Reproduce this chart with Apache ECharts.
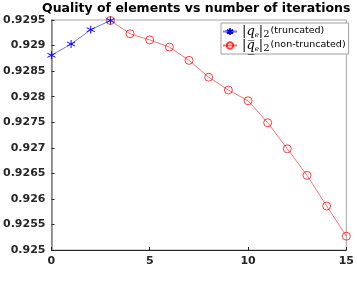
<!DOCTYPE html>
<html><head><meta charset="utf-8">
<script src="https://cdn.jsdelivr.net/npm/echarts@6/dist/echarts.min.js"></script>
<style>html,body{margin:0;padding:0;background:#fff}#c{width:357px;height:283px}</style>
</head><body><div id="c"></div>
<script>
const iterTrunc = [0, 1, 2, 3];
const qualTrunc = [0.92881, 0.92903, 0.92931, 0.92949];
const iterNon = [3, 4, 5, 6, 7, 8, 9, 10, 11, 12, 13, 14, 15];
const qualNon = [0.92949, 0.92923, 0.92911, 0.92897, 0.92871, 0.92838, 0.92813, 0.92792, 0.92749, 0.92698, 0.92646, 0.92586, 0.92527];
const xTicks = [0, 5, 10, 15];
const yTicks = [0.925, 0.9255, 0.926, 0.9265, 0.927, 0.9275, 0.928, 0.9285, 0.929, 0.9295];
const titleText = 'Quality of elements vs number of iterations';
const seriesNames = ['truncated', 'non-truncated'];

const chart = echarts.init(document.getElementById('c'));
const star = 'path://M0,-5L0,5M-4.33,-2.5L4.33,2.5M-4.33,2.5L4.33,-2.5';
const rich = {
  b: {fontSize: 13, fontFamily: 'DejaVu Serif', color: '#000'},
  q: {fontSize: 13, fontStyle: 'italic', fontFamily: 'DejaVu Serif', color: '#000'},
  e: {fontSize: 7, fontStyle: 'italic', fontFamily: 'DejaVu Serif', color: '#000', padding: [7, 0, 0, 0]},
  n: {fontSize: 10, fontFamily: 'DejaVu Serif', color: '#000', padding: [5, 1, 0, 0]},
  t: {fontSize: 9.5, fontFamily: 'DejaVu Sans', color: '#000', padding: [0, 0, 1, 0]}
};
chart.setOption({
  animation: false,
  title: {text: titleText, left: 42, top: 2, padding: 0,
    textStyle: {fontFamily: 'DejaVu Sans', fontWeight: 'bold', fontSize: 12.5, color: '#000'}},
  grid: {left: 51, right: 8, top: 20, bottom: 33, show: true, borderColor: '#a6a6a6', borderWidth: 1},
  legend: {
    orient: 'vertical', left: 221, top: 23, padding: [2, 3, 1, 1], itemGap: 0,
    itemWidth: 14, itemHeight: 8,
    backgroundColor: '#fff', borderColor: '#a0a0a0', borderWidth: 1,
    data: seriesNames,
    formatter: function (n) { return '{b||}{q|q\u0332}{e|e}{b||}{n|2}{t|(' + n + ')}'; },
    textStyle: {rich: rich}
  },
  xAxis: {
    type: 'value', min: xTicks[0], max: xTicks[xTicks.length - 1], interval: 5,
    axisLine: {show: true, onZero: false, lineStyle: {color: '#262626', width: 1}},
    axisTick: {inside: true, length: 3, lineStyle: {color: '#262626'}},
    splitLine: {show: false},
    axisLabel: {margin: 6, fontFamily: 'DejaVu Sans', fontWeight: 'bold', fontSize: 11, color: '#262626'}
  },
  yAxis: {
    type: 'value', min: yTicks[0], max: yTicks[yTicks.length - 1], interval: 0.0005,
    axisLine: {show: true, lineStyle: {color: '#808080', width: 1.5}},
    axisTick: {show: true, inside: true, length: 3, lineStyle: {color: '#262626'}},
    splitLine: {show: false},
    axisLabel: {margin: 6, fontFamily: 'DejaVu Sans', fontWeight: 'bold', fontSize: 11, color: '#262626',
      formatter: v => String(parseFloat(v.toFixed(4)))}
  },
  series: [
    {name: seriesNames[1], type: 'line', data: iterNon.map((x, i) => [x, qualNon[i]]),
      symbol: 'circle', symbolSize: 8, z: 2,
      lineStyle: {color: 'rgba(255,0,0,0.55)', width: 1},
      itemStyle: {color: 'rgba(255,255,255,0)', borderColor: 'rgba(255,0,0,0.75)', borderWidth: 1}},
    {name: seriesNames[0], type: 'line', data: iterTrunc.map((x, i) => [x, qualTrunc[i]]),
      symbol: star, symbolSize: 8, z: 3,
      lineStyle: {color: 'rgba(0,0,255,0.55)', width: 1},
      itemStyle: {color: 'none', borderColor: '#0000ff', borderWidth: 1}}
  ]
});
</script></body></html>
